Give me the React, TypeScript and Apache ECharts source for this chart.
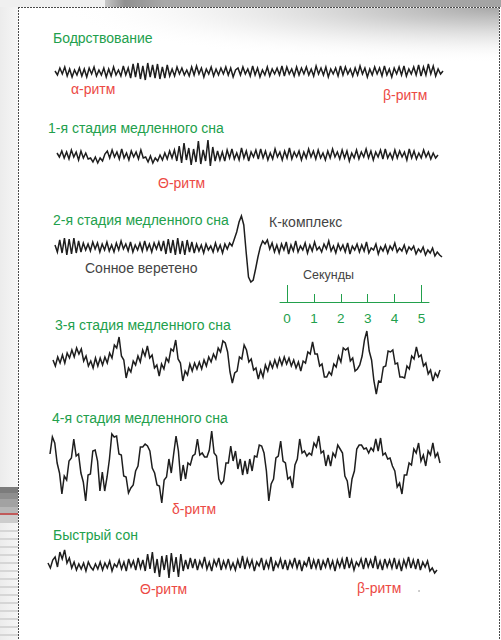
import React, { useEffect, useRef } from "react";
import * as echarts from "echarts";

// ---------- DATA (trace amplitudes in px units, positive = up) ----------
const wakeTrace = [
  1,-3,4,-2,5,-4,3,-5,2,-3,4,
  -4,3,-5,4,-2,5,-4,2,-3,4,
  -5,3,-4,5,-3,2,-4,6,-3,4,
  -6,8,-5,9,-7,6,-8,9,-5,7,-6,8,-7,5,-6,7,-4,
  3,-4,5,-2,4,-3,2,-4,5,-3,6,-2,4,-5,3,-2,5,-4,3,-3,4,-2,5,
  -3,4,-5,2,4,-3,5,-2,3,-4,6,-3,4,-5,2,-3,5,-4,3,-2,4,-3,6,-4,5,-2,3,-4,5,-3,
  4,-2,5,-3,3,-4,6,-2,4,-3,5,-5,3,-2,4,-4,6,-3,5,-2,3,-4,4,-3,6,-2,4,-5,3,-3,
  5,-2,4,-4,6,-3,3,-5,4,-2,5,-3,6,-4,3,-2,5,-3,7,-4,5,-3,8,-2,6,-4,3,-2,1,
];

const stage1Trace = [
  2,-2,4,-3,3,-4,5,-2,3,-5,4,-3,2,-4,
  -3,-7,-2,-8,-3,-6,1,
  4,-3,5,-2,3,-4,6,-3,2,-5,4,-2,3,-4,5,-3,
  -2,-7,-1,-8,-3,-6,0,-5,2,-4,4,-3,5,
  -6,9,-8,12,-5,7,-10,6,-7,14,-9,5,-6,15,-11,8,-6,
  4,-5,3,-6,5,-3,6,-4,2,-5,7,-3,4,-6,3,-2,5,-4,6,-3,4,-5,2,-4,6,-2,3,-5,4,-3,7,-4,3,-2,
  4,-5,3,-3,6,-2,4,-4,5,-3,2,-5,4,-3,6,-2,3,-4,5,-3,4,-6,2,-3,5,-4,3,-2,6,-3,
  4,-5,3,-2,5,-4,6,-3,2,-4,5,-3,4,-2,3,-5,6,-3,4,-4,2,-3,5,-2,3,-4,2,-3,0,
];

const stage2Trace = [
  2,-5,7,-6,9,-8,8,-7,9,-6,6,-5,4,-3,
  3,-4,5,-2,4,-5,3,-3,5,-4,2,-5,4,-3,6,-2,3,-4,5,-5,2,-3,4,-4,6,-3,3,-5,4,-2,5,-4,
  6,-7,8,-6,7,-8,9,-7,6,-8,7,-5,5,-6,3,
  -4,2,-6,3,-3,1,-5,4,-4,2,-6,3,-2,4,1,
  8,15,25,31,22,-5,-30,-35,-33,-22,-10,0,6,3,7,
  -2,4,-5,2,-6,3,-3,5,-7,2,-4,6,-5,1,-3,4,-6,2,-4,5,
  -3,0,-5,3,-2,6,-4,1,-6,3,-3,2,-5,4,-7,1,-3,3,-5,2,
  -4,5,-6,-1,-3,3,-7,0,-4,2,-6,1,-3,4,-5,-1,-4,2,-6,0,
  -3,1,-7,-2,-5,0,-8,-3,-6,-1,-9,-5,-8,-10,
];

const stage3Trace = [
  5,-1,8,2,10,2,12,7,15,8,17,11,
  16,4,9,-1,4,
  -3,7,-1,7,
  0,8,2,12,
  7,20,17,28,
  9,5,-13,
  -3,-7,4,0,
  9,3,15,9,19,
  7,10,-3,0,-11,
  1,-4,7,3,
  16,14,25,
  6,2,-16,
  -6,-10,1,
  -6,2,-4,3,-4,
  5,-1,8,3,11,
  6,17,13,24,22,
  13,-7,-18,
  -8,-6,8,6,20,
  15,3,6,-5,-3,-14,
  -5,-12,0,-6,3,
  -3,5,-2,7,0,8,1,
  7,-1,5,-3,3,-6,
  4,2,13,11,23,
  11,11,-1,1,-12,-12,
  -7,-10,1,-2,9,3,17,15,
  17,4,7,-6,-4,
  0,9,25,34,
  14,5,-16,-29,
  -16,-17,-2,-1,14,13,
  15,1,2,-12,-12,
  -13,-1,-4,9,6,18,
  8,10,-1,2,-9,-5,-16,
  -8,-12,-5,
];

const stage4Trace = [
  13,30,24,4,-6,-27,-9,-13,6,9,
  28,11,13,-6,-15,-34,-8,-7,16,17,
  6,-24,-5,-24,-10,8,33,30,31,13,
  12,-9,-10,-26,-21,-18,-4,1,20,20,
  23,21,16,-1,-6,-18,-19,-36,-13,-10,
  8,-6,13,31,16,-14,2,-12,4,2,
  11,13,28,12,14,10,10,17,36,14,
  11,-12,-17,-14,4,4,21,6,16,-2,
  8,-8,6,-7,8,-4,11,10,22,21,
  14,-4,-34,-17,-12,9,11,26,6,4,
  -12,-10,-21,2,8,28,14,16,11,14,
  12,24,20,31,14,16,1,12,1,14,
  10,22,18,14,-9,-14,-31,-12,-4,18,
  22,22,18,19,14,19,16,28,16,29,
  12,14,8,9,1,-4,-20,-16,-27,-8,
  -8,4,2,18,14,24,6,12,1,16,
  12,24,10,14,4,
];

const remTrace = [
  2,-3,5,8,-2,13,6,15,2,7,
  -3,3,-5,1,-4,2,-6,3,-2,-5,
  1,-4,3,-5,2,-3,4,-6,1,-2,
  5,-4,3,-6,6,-2,4,-5,7,-3,5,
  -6,11,-4,13,-8,6,-12,9,-5,10,-13,12,-7,8,-12,11,-6,5,
  -4,7,-3,6,-5,4,-2,8,-4,3,-6,5,-1,7,-5,4,-3,6,-4,2,-5,5,
  -3,9,-4,6,-2,5,-6,3,-1,7,-5,4,-3,8,-6,3,-2,6,-4,5,
  -5,4,-2,7,-3,5,-6,3,-1,8,-4,5,-3,6,-5,4,-2,7,-3,4,
  -6,5,-2,6,-4,8,-3,5,-5,3,-1,6,-4,7,-2,5,-3,9,-4,4,
  -5,6,-2,5,-3,7,-4,4,-6,5,-2,8,-3,5,-4,6,-5,3,-2,4,-6,-3,-8,-5,
];

const secondsTicks = [0, 1, 2, 3, 4, 5];
const secondsMajor = [0, 5];
const secondsMinor = [1, 2, 3, 4];

const stageTitles = [
  "Бодрствование",
  "1-я стадия медленного сна",
  "2-я стадия медленного сна",
  "3-я стадия медленного сна",
  "4-я стадия медленного сна",
  "Быстрый сон",
];
const rhythmLabels = ["α-ритм", "β-ритм", "Θ-ритм", "δ-ритм", "Θ-ритм", "β-ритм"];
const noteLabels = ["К-комплекс", "Сонное веретено", "Секунды"];

// ---------- LAYOUT ----------
const GREEN = "#22a04c";
const RED = "#ec4a45";
const DARK = "#444444";
const FAMILY = '"Liberation Sans", Arial, sans-serif';

const traces = [wakeTrace, stage1Trace, stage2Trace, stage3Trace, stage4Trace, remTrace];
const traceBoxes = [
  { left: 55, right: 443, center: 72, amp: 12 },
  { left: 57, right: 438, center: 155, amp: 20 },
  { left: 55, right: 442, center: 247, amp: 40 },
  { left: 53, right: 440, center: 365, amp: 35 },
  { left: 50, right: 440, center: 467, amp: 40 },
  { left: 48, right: 437, center: 565, amp: 20 },
];
const titlePos = [
  [53, 38], [48, 128], [53, 220], [55, 325], [52, 418], [53, 535],
];
const rhythmPos = [
  [71, 89], [383, 95], [158, 183], [172, 509], [140, 589], [357, 588],
];
const notePos = [
  [269, 222], [85, 268], [303, 275],
];
const noteSizes = [14, 14, 12.5];

function text(t: string, x: number, y: number, fill: string, size: number) {
  return {
    type: "text",
    x,
    y,
    z: 10,
    style: { text: t, fill, font: `${size}px ${FAMILY}`, verticalAlign: "middle", align: "left" },
  };
}

export default function App() {
  const ref = useRef<HTMLDivElement>(null);
  useEffect(() => {
    if (!ref.current) return;
    const chart = echarts.init(ref.current, undefined, { renderer: "svg" });

    const grid: any[] = traceBoxes.map((b) => ({
      left: b.left,
      top: b.center - b.amp,
      width: b.right - b.left,
      height: 2 * b.amp,
    }));
    grid.push({ left: 280, top: 280, width: 149, height: 22 });

    const xAxis: any[] = traces.map((t, k) => ({
      type: "category",
      gridIndex: k,
      show: false,
      boundaryGap: false,
      data: t.map((_, i) => i),
    }));
    const axisBase = {
      type: "value",
      gridIndex: 6,
      min: -0.26,
      max: 5.28,
      position: "bottom",
      splitLine: { show: false },
    };
    xAxis.push({
      ...axisBase,
      axisLine: { show: true, lineStyle: { color: GREEN, width: 1 } },
      axisTick: {
        show: true,
        inside: true,
        length: 17,
        customValues: secondsMajor,
        lineStyle: { color: GREEN, width: 1 },
      },
      axisLabel: {
        show: true,
        customValues: secondsTicks,
        color: GREEN,
        fontSize: 13.5,
        fontFamily: FAMILY,
        margin: 9,
      },
    });
    xAxis.push({
      ...axisBase,
      axisLine: { show: false },
      axisTick: {
        show: true,
        inside: true,
        length: 8,
        customValues: secondsMinor,
        lineStyle: { color: GREEN, width: 1 },
      },
      axisLabel: { show: false },
    });

    const yAxis: any[] = traceBoxes.map((b, k) => ({
      type: "value",
      gridIndex: k,
      show: false,
      min: -b.amp,
      max: b.amp,
    }));
    yAxis.push({ type: "value", gridIndex: 6, show: false, min: 0, max: 1 });

    const series: any[] = traces.map((t, k) => ({
      type: "line",
      xAxisIndex: k,
      yAxisIndex: k,
      data: t,
      symbol: "none",
      showSymbol: false,
      silent: true,
      lineStyle: { width: 1.5, color: "#1e1e1e", join: "miter" },
    }));
    series.push({ type: "line", xAxisIndex: 6, yAxisIndex: 6, data: [], silent: true });

    const graphics: any[] = [
      // outside left strip
      { type: "rect", z: -5, shape: { x: 0, y: 0, width: 18, height: 640 },
        style: { fill: new echarts.graphic.LinearGradient(0, 0, 1, 0, [
          { offset: 0, color: "#ececec" }, { offset: 1, color: "#f6f6f6" }]) } },
      // top outside band
      { type: "rect", z: -5, shape: { x: 0, y: 0, width: 501, height: 7 },
        style: { fill: "#f0f0f0" } },
      { type: "rect", z: -4, shape: { x: 105, y: 0, width: 396, height: 7 },
        style: { fill: new echarts.graphic.LinearGradient(0, 0, 1, 0, [
          { offset: 0, color: "#c8c8c8" }, { offset: 0.05, color: "#909090" },
          { offset: 0.15, color: "#a8a8a8" }, { offset: 1, color: "#a4a4a4" }]) } },
      // top inside gradient (fading)
      { type: "rect", z: -4, shape: { x: 60, y: 8, width: 439, height: 55 },
        style: { fill: new echarts.graphic.RadialGradient(1, 0, 1, [
          { offset: 0, color: "rgba(168,168,168,1)" },
          { offset: 0.3, color: "rgba(200,200,200,0.9)" },
          { offset: 0.65, color: "rgba(232,232,232,0.6)" },
          { offset: 1, color: "rgba(255,255,255,0)" }]) } },
      // left decorative bands
      { type: "rect", z: -4, shape: { x: 0, y: 487, width: 18, height: 6 }, style: { fill: "#7c7c7c" } },
      { type: "rect", z: -4, shape: { x: 0, y: 493, width: 18, height: 6 }, style: { fill: "#8e8e8e" } },
      { type: "rect", z: -4, shape: { x: 0, y: 499, width: 18, height: 8 }, style: { fill: "#a2a2a2" } },
      { type: "rect", z: -4, shape: { x: 0, y: 507, width: 18, height: 6 }, style: { fill: "#b6b6b6" } },
      { type: "rect", z: -4, shape: { x: 0, y: 513, width: 18, height: 2 }, style: { fill: "#c05a5a" } },
      { type: "rect", z: -4, shape: { x: 0, y: 515, width: 18, height: 8 }, style: { fill: "#cdcdcd" } },
    ];
    for (let yy = 530; yy < 640; yy += 8) {
      graphics.push({ type: "rect", z: -4, shape: { x: 0, y: yy, width: 18, height: 2 }, style: { fill: "#d6d6d6" } });
    }
    // frame
    graphics.push(
      { type: "line", z: 5, shape: { x1: 18.5, y1: 7, x2: 18.5, y2: 640 },
        style: { stroke: "#4a4a4a", lineWidth: 1, lineDash: [2, 1] } },
      { type: "line", z: 5, shape: { x1: 18, y1: 7.5, x2: 501, y2: 7.5 },
        style: { stroke: "#4a4a4a", lineWidth: 1, lineDash: [2, 1] } },
      { type: "line", z: 5, shape: { x1: 499.5, y1: 7, x2: 499.5, y2: 640 },
        style: { stroke: "#4a4a4a", lineWidth: 1, lineDash: [2, 1] } },
    );
    stageTitles.forEach((t, k) => graphics.push(text(t, titlePos[k][0], titlePos[k][1], GREEN, 14)));
    rhythmLabels.forEach((t, k) => graphics.push(text(t, rhythmPos[k][0], rhythmPos[k][1], RED, 14)));
    noteLabels.forEach((t, k) => graphics.push(text(t, notePos[k][0], notePos[k][1], DARK, noteSizes[k])));
    graphics.push({ type: "circle", z: 10, shape: { cx: 419, cy: 591, r: 0.8 }, style: { fill: "#b0b0b0" } });

    chart.setOption({
      animation: false,
      backgroundColor: "#ffffff",
      grid,
      xAxis,
      yAxis,
      series,
      graphic: { elements: graphics },
    });
    return () => chart.dispose();
  }, []);

  return (
    <div
      ref={ref}
      style={{ position: "fixed", left: 0, top: 0, width: 501, height: 640, background: "#fff" }}
    />
  );
}
